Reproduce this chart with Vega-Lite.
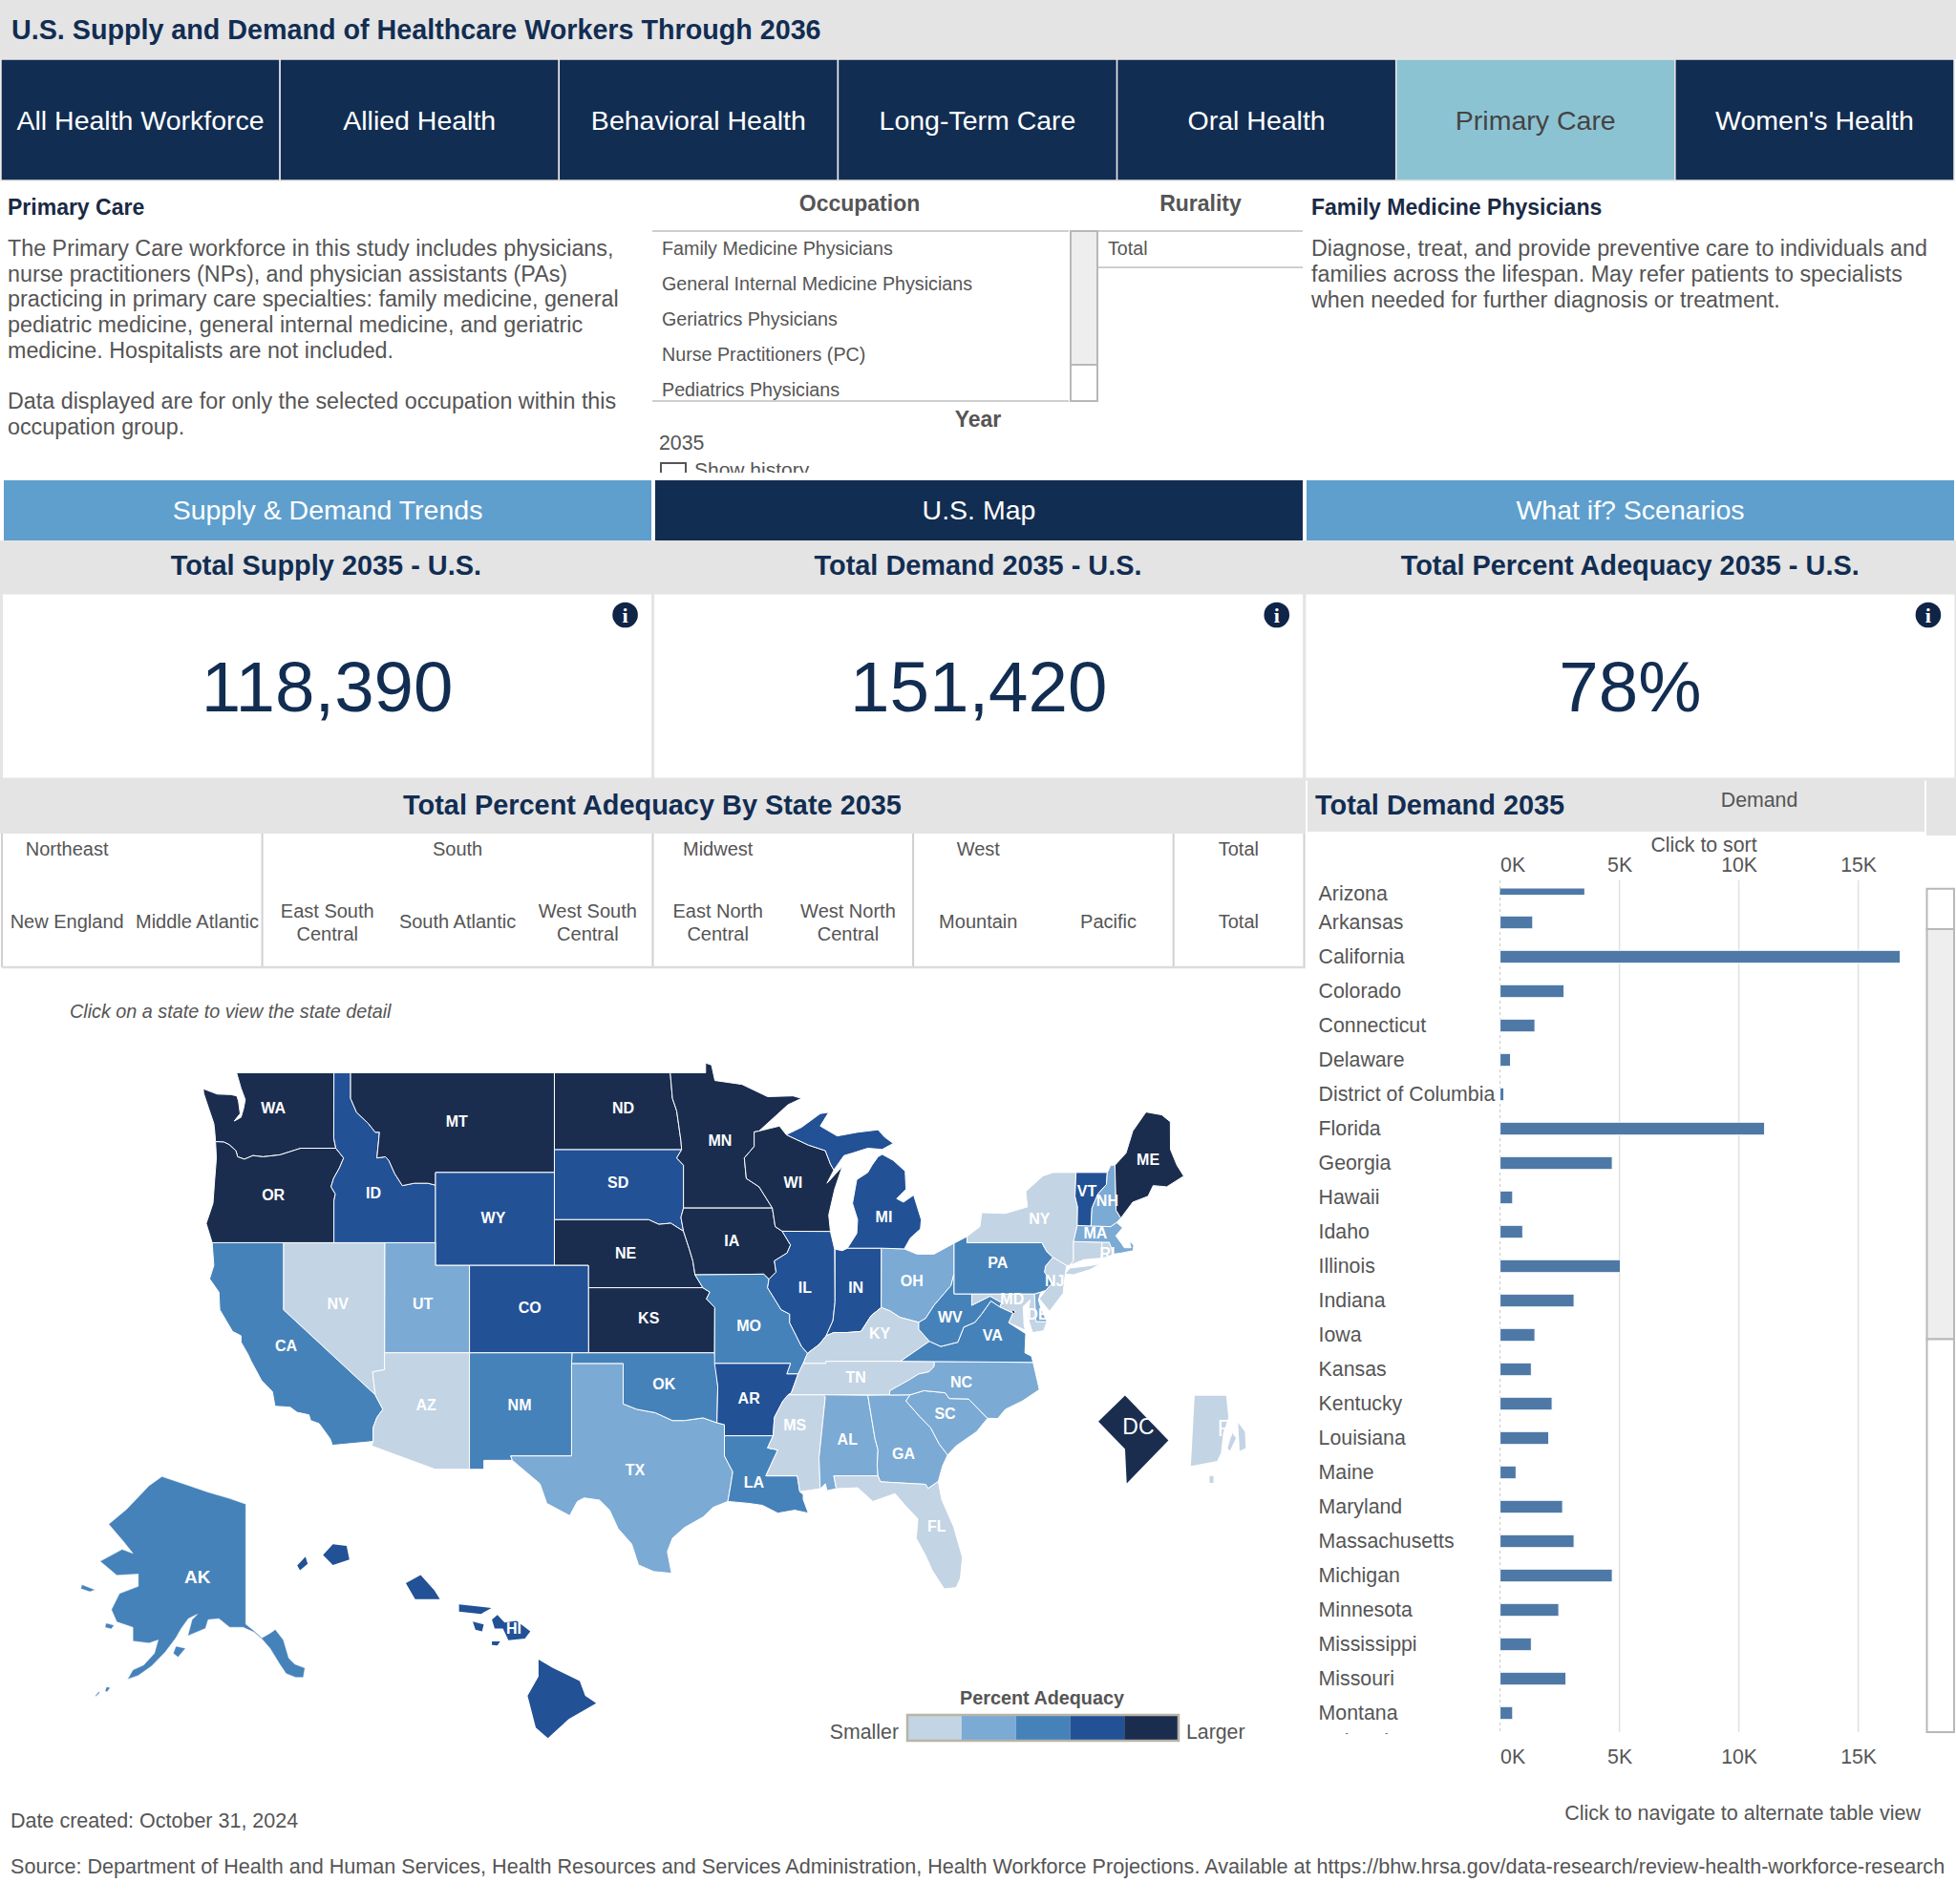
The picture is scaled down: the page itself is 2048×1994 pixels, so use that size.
{"$schema":"https://vega.github.io/schema/vega-lite/v6.json","padding":0,"background":"#ffffff","spacing":0,"bounds":"flush","resolve":{"scale":{"color":"independent","fill":"independent"}},"config":{"view":{"stroke":null},"text":{"font":"Liberation Sans"},"concat":{"spacing":0}},
"datasets":{
"tabs":[{"tab":"All Health Workforce","state":"off"},{"tab":"Allied Health","state":"off"},{"tab":"Behavioral Health","state":"off"},{"tab":"Long-Term Care","state":"off"},{"tab":"Oral Health","state":"off"},{"tab":"Primary Care","state":"on"},{"tab":"Women's Health","state":"off"}],
"nav":[{"b":"Supply & Demand Trends","state":"idle"},{"b":"U.S. Map","state":"active"},{"b":"What if? Scenarios","state":"idle"}],
"kpis":[{"m":"supply","title":"Total Supply 2035 - U.S.","value":"118,390"},{"m":"demand","title":"Total Demand 2035 - U.S.","value":"151,420"},{"m":"adequacy","title":"Total Percent Adequacy 2035 - U.S.","value":"78%"}],
"divisions":[{"d":"New England","label":"New England"},{"d":"Middle Atlantic","label":"Middle Atlantic"},{"d":"East South Central","label":"East South\nCentral"},{"d":"South Atlantic","label":"South Atlantic"},{"d":"West South Central","label":"West South\nCentral"},{"d":"East North Central","label":"East North\nCentral"},{"d":"West North Central","label":"West North\nCentral"},{"d":"Mountain","label":"Mountain"},{"d":"Pacific","label":"Pacific"},{"d":"Total","label":"Total"}],
"demand":[{"state":"Arizona","demand":3530},{"state":"Arkansas","demand":1370},{"state":"California","demand":16760},{"state":"Colorado","demand":2680},{"state":"Connecticut","demand":1460},{"state":"Delaware","demand":440},{"state":"District of Columbia","demand":160},{"state":"Florida","demand":11080},{"state":"Georgia","demand":4700},{"state":"Hawaii","demand":530},{"state":"Idaho","demand":950},{"state":"Illinois","demand":5040},{"state":"Indiana","demand":3100},{"state":"Iowa","demand":1460},{"state":"Kansas","demand":1310},{"state":"Kentucky","demand":2180},{"state":"Louisiana","demand":2040},{"state":"Maine","demand":670},{"state":"Maryland","demand":2620},{"state":"Massachusetts","demand":3100},{"state":"Michigan","demand":4700},{"state":"Minnesota","demand":2460},{"state":"Mississippi","demand":1310},{"state":"Missouri","demand":2760},{"state":"Montana","demand":530},{"state":"Nebraska"}],
"lower48":[
{"type":"Feature","properties":{"s":"WA","level":5},"geometry":{"type":"Polygon","coordinates":[[[-122.76,49],[-117.03,49],[-117.04,46.42],[-116.92,46],[-118.98,46],[-119.3,45.93],[-120.2,45.73],[-121.2,45.65],[-121.8,45.7],[-122.3,45.55],[-122.7,45.65],[-122.8,45.9],[-123.2,46.15],[-123.5,46.25],[-124,46.27],[-124.05,46.7],[-124.1,47],[-124.4,47.6],[-124.7,48.2],[-124.72,48.38],[-123.9,48.17],[-123.1,48.15],[-122.75,48.1],[-122.65,47.9],[-122.55,47.4],[-122.9,47.1],[-122.5,47.25],[-122.35,47.6],[-122.25,47.95],[-122.5,48.4],[-122.76,49]]]}},
{"type":"Feature","properties":{"s":"OR","level":5},"geometry":{"type":"Polygon","coordinates":[[[-124,46.27],[-123.5,46.25],[-123.2,46.15],[-122.8,45.9],[-122.7,45.65],[-122.3,45.55],[-121.8,45.7],[-121.2,45.65],[-120.2,45.73],[-119.3,45.93],[-118.98,46],[-116.92,46],[-116.46,45.6],[-116.7,45.2],[-117.05,44.75],[-117.2,44.4],[-116.95,44.1],[-117.03,43.8],[-117.03,42],[-124.2,42],[-124.55,42.84],[-124.15,43.7],[-124.05,44.7],[-123.95,45.6],[-124,46.27]]]}},
{"type":"Feature","properties":{"s":"ID","level":4},"geometry":{"type":"Polygon","coordinates":[[[-117.03,49],[-116.05,49],[-116.05,48],[-115.7,47.45],[-115,47],[-114.6,46.65],[-114.35,46.65],[-114.5,45.6],[-114,45.65],[-113.8,45.5],[-113.45,44.95],[-113,44.45],[-112.3,44.55],[-111.5,44.55],[-111.05,44.47],[-111.05,42],[-117.03,42],[-117.03,43.8],[-116.95,44.1],[-117.2,44.4],[-117.05,44.75],[-116.7,45.2],[-116.46,45.6],[-116.92,46],[-117.04,46.42],[-117.03,49]]]}},
{"type":"Feature","properties":{"s":"MT","level":5},"geometry":{"type":"Polygon","coordinates":[[[-116.05,49],[-104.05,49],[-104.05,45],[-111.05,45],[-111.05,44.47],[-111.5,44.55],[-112.3,44.55],[-113,44.45],[-113.45,44.95],[-113.8,45.5],[-114,45.65],[-114.5,45.6],[-114.35,46.65],[-114.6,46.65],[-115,47],[-115.7,47.45],[-116.05,48],[-116.05,49]]]}},
{"type":"Feature","properties":{"s":"WY","level":4},"geometry":{"type":"Polygon","coordinates":[[[-111.05,45],[-104.05,45],[-104.05,41],[-111.05,41],[-111.05,45]]]}},
{"type":"Feature","properties":{"s":"ND","level":5},"geometry":{"type":"Polygon","coordinates":[[[-104.05,49],[-97.23,49],[-97.1,48],[-96.85,47.5],[-96.6,46.3],[-96.56,45.94],[-104.05,45.94],[-104.05,49]]]}},
{"type":"Feature","properties":{"s":"SD","level":4},"geometry":{"type":"Polygon","coordinates":[[[-104.05,45.94],[-96.56,45.94],[-96.85,45.6],[-96.45,45.3],[-96.45,43.5],[-96.6,43.1],[-96.45,42.5],[-97.2,42.85],[-97.9,42.8],[-98.5,43],[-104.05,43],[-104.05,45.94]]]}},
{"type":"Feature","properties":{"s":"NE","level":5},"geometry":{"type":"Polygon","coordinates":[[[-104.05,43],[-98.5,43],[-97.9,42.8],[-97.2,42.85],[-96.45,42.5],[-96.1,41.7],[-95.9,41.2],[-95.77,40.58],[-95.31,40],[-102.05,40],[-102.05,41],[-104.05,41],[-104.05,43]]]}},
{"type":"Feature","properties":{"s":"KS","level":5},"geometry":{"type":"Polygon","coordinates":[[[-102.05,40],[-95.31,40],[-94.9,39.8],[-95.1,39.5],[-94.61,39.1],[-94.62,37],[-102.04,37],[-102.05,40]]]}},
{"type":"Feature","properties":{"s":"CO","level":4},"geometry":{"type":"Polygon","coordinates":[[[-109.05,41],[-102.05,41],[-102.04,37],[-109.05,37],[-109.05,41]]]}},
{"type":"Feature","properties":{"s":"UT","level":2},"geometry":{"type":"Polygon","coordinates":[[[-114.04,42],[-111.05,42],[-111.05,41],[-109.05,41],[-109.05,37],[-114.05,37],[-114.04,42]]]}},
{"type":"Feature","properties":{"s":"NV","level":1},"geometry":{"type":"Polygon","coordinates":[[[-120,42],[-114.04,42],[-114.05,36.2],[-114.75,36.1],[-114.6,35],[-120,39],[-120,42]]]}},
{"type":"Feature","properties":{"s":"CA","level":3},"geometry":{"type":"Polygon","coordinates":[[[-124.2,42],[-120,42],[-120,39],[-114.6,35],[-114.15,34.3],[-114.5,33.9],[-114.72,33.4],[-114.72,32.72],[-117.12,32.53],[-117.25,32.85],[-117.9,33.6],[-118.4,33.75],[-118.5,34.03],[-119.2,34.15],[-119.6,34.4],[-120.5,34.45],[-120.65,35.15],[-121.3,35.7],[-121.9,36.6],[-122.1,36.95],[-122.5,37.5],[-122.5,37.8],[-123,38],[-123.75,39],[-123.8,39.8],[-124.35,40.4],[-124.1,41],[-124.2,42]]]}},
{"type":"Feature","properties":{"s":"AZ","level":1},"geometry":{"type":"Polygon","coordinates":[[[-114.05,37],[-109.05,37],[-109.05,31.33],[-111.07,31.33],[-114.81,32.5],[-114.72,32.72],[-114.72,33.4],[-114.5,33.9],[-114.15,34.3],[-114.6,35],[-114.75,36.1],[-114.05,36.2],[-114.05,37]]]}},
{"type":"Feature","properties":{"s":"NM","level":3},"geometry":{"type":"Polygon","coordinates":[[[-109.05,37],[-103,37],[-103.04,32],[-106.62,32],[-106.53,31.78],[-108.2,31.78],[-108.2,31.33],[-109.05,31.33],[-109.05,37]]]}},
{"type":"Feature","properties":{"s":"TX","level":2},"geometry":{"type":"Polygon","coordinates":[[[-103.04,36.5],[-100,36.5],[-100,34.56],[-99.2,34.3],[-98.1,34.13],[-97.1,33.75],[-96.4,33.75],[-95.3,33.88],[-94.48,33.64],[-94.04,33.55],[-94.04,33],[-94.04,32],[-93.55,31.2],[-93.7,30.4],[-93.84,29.7],[-94.7,29.4],[-95.3,28.9],[-96.4,28.35],[-97.1,27.8],[-97.4,27.1],[-97.15,25.96],[-98.2,26.05],[-99.1,26.4],[-99.5,27.5],[-100.3,28.3],[-100.8,29.25],[-101.4,29.77],[-102.3,29.88],[-102.7,29.7],[-103.15,28.97],[-104.5,29.6],[-104.9,30.6],[-106.53,31.78],[-106.62,32],[-103.04,32],[-103.04,36.5]]]}},
{"type":"Feature","properties":{"s":"OK","level":3},"geometry":{"type":"Polygon","coordinates":[[[-103,37],[-94.62,37],[-94.43,35.4],[-94.48,33.64],[-95.3,33.88],[-96.4,33.75],[-97.1,33.75],[-98.1,34.13],[-99.2,34.3],[-100,34.56],[-100,36.5],[-103.04,36.5],[-103,37]]]}},
{"type":"Feature","properties":{"s":"MN","level":5},"geometry":{"type":"Polygon","coordinates":[[[-97.23,49],[-95.15,49],[-95.15,49.38],[-94.8,49.3],[-94.6,48.7],[-93,48.55],[-91.5,48.07],[-90,48.1],[-89.5,48],[-90.3,47.75],[-92,46.7],[-92.29,46.66],[-92.29,46.07],[-92.87,45.6],[-92.75,44.75],[-92,44.4],[-91.22,43.5],[-96.45,43.5],[-96.45,45.3],[-96.85,45.6],[-96.56,45.94],[-96.6,46.3],[-96.85,47.5],[-97.1,48],[-97.23,49]]]}},
{"type":"Feature","properties":{"s":"IA","level":5},"geometry":{"type":"Polygon","coordinates":[[[-96.45,43.5],[-91.22,43.5],[-91.05,42.7],[-90.64,42.5],[-90.15,41.9],[-90.35,41.55],[-91.1,41.2],[-91,40.7],[-91.42,40.38],[-91.73,40.61],[-95.77,40.58],[-95.9,41.2],[-96.1,41.7],[-96.45,42.5],[-96.6,43.1],[-96.45,43.5]]]}},
{"type":"Feature","properties":{"s":"MO","level":3},"geometry":{"type":"Polygon","coordinates":[[[-95.77,40.58],[-91.73,40.61],[-91.42,40.38],[-91.5,40],[-90.7,39],[-90.2,38.8],[-90.2,38.4],[-89.5,37.3],[-89.15,36.98],[-89.4,36.5],[-89.7,36],[-90.37,36],[-90.15,36.5],[-94.62,36.5],[-94.62,37],[-94.61,39.1],[-95.1,39.5],[-94.9,39.8],[-95.31,40],[-95.77,40.58]]]}},
{"type":"Feature","properties":{"s":"AR","level":4},"geometry":{"type":"Polygon","coordinates":[[[-94.62,36.5],[-90.15,36.5],[-90.37,36],[-89.7,36],[-90.1,35.1],[-90.6,34.7],[-91.1,33.9],[-91.17,33],[-94.04,33],[-94.04,33.55],[-94.48,33.64],[-94.43,35.4],[-94.62,36.5]]]}},
{"type":"Feature","properties":{"s":"LA","level":3},"geometry":{"type":"Polygon","coordinates":[[[-94.04,33],[-91.17,33],[-91.5,32.4],[-90.9,32.3],[-91.6,31],[-89.75,31],[-89.6,30.2],[-89.4,30.05],[-89.4,29.8],[-89.1,29.1],[-89.9,29.25],[-90.9,29.1],[-91.8,29.5],[-92.6,29.6],[-93.84,29.7],[-93.7,30.4],[-93.55,31.2],[-94.04,32],[-94.04,33]]]}},
{"type":"Feature","properties":{"s":"WI","level":5},"geometry":{"type":"Polygon","coordinates":[[[-92.29,46.66],[-92,46.7],[-90.8,46.9],[-90.4,46.55],[-89.1,46.13],[-88.1,45.9],[-87.8,45.35],[-87.6,45.1],[-88,44.55],[-87.1,45.25],[-87.55,44.3],[-87.9,43.2],[-87.8,42.49],[-90.64,42.5],[-91.05,42.7],[-91.22,43.5],[-92,44.4],[-92.75,44.75],[-92.87,45.6],[-92.29,46.07],[-92.29,46.66]]]}},
{"type":"Feature","properties":{"s":"IL","level":4},"geometry":{"type":"Polygon","coordinates":[[[-90.64,42.5],[-87.8,42.49],[-87.55,41.7],[-87.53,39.35],[-87.65,38.5],[-88.05,37.8],[-88.45,37.4],[-89.15,36.98],[-89.5,37.3],[-90.2,38.4],[-90.2,38.8],[-90.7,39],[-91.5,40],[-91.42,40.38],[-91,40.7],[-91.1,41.2],[-90.35,41.55],[-90.15,41.9],[-90.64,42.5]]]}},
{"type":"Feature","properties":{"s":"IN","level":4},"geometry":{"type":"Polygon","coordinates":[[[-87.53,41.72],[-87.1,41.65],[-86.8,41.76],[-84.8,41.76],[-84.81,39.1],[-85.4,38.73],[-86,38],[-86.8,37.95],[-87.6,37.95],[-88.05,37.8],[-87.65,38.5],[-87.53,39.35],[-87.53,41.72]]]}},
{"type":"Feature","properties":{"s":"OH","level":2},"geometry":{"type":"Polygon","coordinates":[[[-84.8,41.76],[-83.45,41.73],[-82.7,41.5],[-81.7,41.5],[-80.52,41.98],[-80.52,40.64],[-80.7,40.1],[-81.7,39.2],[-82.2,38.6],[-82.6,38.42],[-83.7,38.65],[-84.3,38.95],[-84.81,39.1],[-84.8,41.76]]]}},
{"type":"Feature","properties":{"s":"MI","level":4},"geometry":{"type":"MultiPolygon","coordinates":[[[[-90.4,46.55],[-89.5,46.85],[-88.4,47.4],[-87.9,47.45],[-88.4,46.9],[-87.4,46.5],[-86.2,46.65],[-85,46.75],[-84.6,46.45],[-84.1,46.2],[-84.75,45.95],[-85.6,46],[-86.5,45.8],[-87,45.7],[-87.6,45.1],[-87.8,45.35],[-88.1,45.9],[-89.1,46.13],[-90.4,46.55]]],[[[-84.75,45.75],[-84.1,45.5],[-83.4,45.05],[-83.35,44.3],[-83.9,43.9],[-83.5,43.75],[-82.9,44.05],[-82.45,43],[-82.5,42.6],[-83.1,42.2],[-83.45,41.73],[-84.8,41.76],[-86.8,41.76],[-86.25,42.4],[-86.2,43],[-86.5,43.7],[-86.25,44.7],[-85.6,45],[-85.35,45.3],[-85,45.65],[-84.75,45.75]]]]}},
{"type":"Feature","properties":{"s":"KY","level":1},"geometry":{"type":"Polygon","coordinates":[[[-89.4,36.5],[-89.15,36.98],[-88.45,37.4],[-88.05,37.8],[-87.6,37.95],[-86.8,37.95],[-86,38],[-85.4,38.73],[-84.81,39.1],[-84.3,38.95],[-83.7,38.65],[-82.6,38.42],[-82.6,38.1],[-81.97,37.54],[-83.68,36.6],[-88.07,36.6],[-88.07,36.5],[-89.4,36.5]]]}},
{"type":"Feature","properties":{"s":"TN","level":1},"geometry":{"type":"Polygon","coordinates":[[[-89.7,36],[-89.4,36.5],[-88.07,36.5],[-88.07,36.6],[-83.68,36.6],[-81.68,36.59],[-81.7,36.35],[-82,36.1],[-82.6,36],[-83.2,35.7],[-84.3,35.2],[-84.32,34.99],[-90.3,35],[-90.1,35.1],[-89.7,36]]]}},
{"type":"Feature","properties":{"s":"MS","level":1},"geometry":{"type":"Polygon","coordinates":[[[-90.3,35],[-88.2,35],[-88.1,34.9],[-88.47,31.9],[-88.4,30.35],[-89.6,30.2],[-89.75,31],[-91.6,31],[-90.9,32.3],[-91.5,32.4],[-91.17,33],[-91.1,33.9],[-90.6,34.7],[-90.3,35]]]}},
{"type":"Feature","properties":{"s":"AL","level":2},"geometry":{"type":"Polygon","coordinates":[[[-88.2,35],[-85.6,34.98],[-85.18,32.87],[-85,32.3],[-85.05,31.55],[-85,31],[-87.6,31],[-87.45,30.35],[-88,30.25],[-88.1,30.6],[-88.4,30.35],[-88.47,31.9],[-88.1,34.9],[-88.2,35]]]}},
{"type":"Feature","properties":{"s":"GA","level":2},"geometry":{"type":"Polygon","coordinates":[[[-85.6,34.98],[-83.11,35],[-83.35,34.7],[-82.55,33.95],[-81.9,33.4],[-81.4,32.6],[-80.9,32.05],[-81.2,31.5],[-81.45,30.72],[-82.05,30.36],[-82.2,30.57],[-84.86,30.7],[-85,31],[-85.05,31.55],[-85,32.3],[-85.18,32.87],[-85.6,34.98]]]}},
{"type":"Feature","properties":{"s":"FL","level":1},"geometry":{"type":"Polygon","coordinates":[[[-87.6,31],[-85,31],[-84.86,30.7],[-82.2,30.57],[-82.05,30.36],[-81.45,30.72],[-81.25,29.8],[-80.55,28.4],[-80.03,26.8],[-80.15,25.7],[-80.4,25.2],[-81.1,25.13],[-81.8,26.1],[-82.2,26.9],[-82.75,27.8],[-82.65,28.8],[-83.4,29.5],[-84,30.1],[-85.3,29.7],[-86.2,30.4],[-87.45,30.35],[-87.6,31]]]}},
{"type":"Feature","properties":{"s":"SC","level":2},"geometry":{"type":"Polygon","coordinates":[[[-83.11,35],[-82.3,35.2],[-81.05,35.1],[-80.8,34.82],[-79.67,34.8],[-78.55,33.86],[-79.2,33.2],[-80.4,32.5],[-80.9,32.05],[-81.4,32.6],[-81.9,33.4],[-82.55,33.95],[-83.35,34.7],[-83.11,35]]]}},
{"type":"Feature","properties":{"s":"NC","level":2},"geometry":{"type":"Polygon","coordinates":[[[-84.32,34.99],[-84.3,35.2],[-83.2,35.7],[-82.6,36],[-82,36.1],[-81.7,36.35],[-81.68,36.59],[-75.87,36.55],[-75.5,35.25],[-76.5,34.7],[-77.5,34.3],[-77.95,33.85],[-78.55,33.86],[-79.67,34.8],[-80.8,34.82],[-81.05,35.1],[-82.3,35.2],[-83.11,35],[-84.32,34.99]]]}},
{"type":"Feature","properties":{"s":"VA","level":3},"geometry":{"type":"Polygon","coordinates":[[[-83.68,36.6],[-81.97,37.54],[-81.3,37.3],[-80.3,37.5],[-79.95,38.2],[-79.3,38.42],[-78.9,38.8],[-78.35,39.4],[-77.83,39.13],[-77.05,38.85],[-77.3,38.4],[-76.3,37.9],[-76.35,37],[-75.97,36.85],[-75.87,36.55],[-81.68,36.59],[-83.68,36.6]]]}},
{"type":"Feature","properties":{"s":"WV","level":3},"geometry":{"type":"Polygon","coordinates":[[[-82.6,38.42],[-82.2,38.6],[-81.7,39.2],[-80.7,40.1],[-80.52,40.64],[-80.52,39.72],[-79.48,39.72],[-79.48,39.2],[-78.4,39.62],[-77.72,39.32],[-77.83,39.13],[-78.35,39.4],[-78.9,38.8],[-79.3,38.42],[-79.95,38.2],[-80.3,37.5],[-81.3,37.3],[-81.97,37.54],[-82.6,38.1],[-82.6,38.42]]]}},
{"type":"Feature","properties":{"s":"MD","level":1},"geometry":{"type":"Polygon","coordinates":[[[-79.48,39.72],[-75.79,39.72],[-75.7,38.46],[-75.05,38.45],[-75.25,38.03],[-75.9,37.95],[-76.2,38.7],[-76.05,39.45],[-76.45,39.15],[-76.4,38.3],[-76.32,38.05],[-77,38.3],[-77.3,38.4],[-77.05,38.85],[-77.83,39.13],[-77.72,39.32],[-78.4,39.62],[-79.48,39.2],[-79.48,39.72]]]}},
{"type":"Feature","properties":{"s":"DE","level":2},"geometry":{"type":"Polygon","coordinates":[[[-75.79,39.72],[-75.42,39.8],[-75.55,39.45],[-75.4,39.05],[-75.05,38.45],[-75.7,38.46],[-75.79,39.72]]]}},
{"type":"Feature","properties":{"s":"NJ","level":1},"geometry":{"type":"Polygon","coordinates":[[[-74.7,41.36],[-73.9,41],[-74,40.45],[-74.1,39.75],[-74.9,38.93],[-75.5,39.5],[-75.13,39.88],[-74.75,40.2],[-75.2,40.7],[-75.13,40.98],[-74.7,41.36]]]}},
{"type":"Feature","properties":{"s":"PA","level":3},"geometry":{"type":"Polygon","coordinates":[[[-80.52,41.98],[-79.76,42.27],[-79.76,42],[-75.35,42],[-75.05,41.6],[-74.7,41.36],[-75.13,40.98],[-75.2,40.7],[-74.75,40.2],[-75.13,39.88],[-75.42,39.8],[-75.79,39.72],[-80.52,39.72],[-80.52,40.64],[-80.52,41.98]]]}},
{"type":"Feature","properties":{"s":"NY","level":1},"geometry":{"type":"MultiPolygon","coordinates":[[[[-79.76,42.27],[-79,42.7],[-78.9,43.3],[-77.5,43.27],[-76.2,43.55],[-76.3,44.2],[-75.3,44.85],[-74.7,45],[-73.34,45],[-73.4,44],[-73.25,43.55],[-73.27,42.75],[-73.49,42.05],[-73.49,41.2],[-73.73,41],[-73.9,41],[-74.7,41.36],[-75.05,41.6],[-75.35,42],[-79.76,42],[-79.76,42.27]]],[[[-74,40.62],[-73.7,40.88],[-72.6,40.98],[-71.9,41.07],[-72.5,40.82],[-73.5,40.58],[-74,40.62]]]]}},
{"type":"Feature","properties":{"s":"CT","level":1},"geometry":{"type":"Polygon","coordinates":[[[-73.49,42.05],[-71.8,42.02],[-71.85,41.32],[-72.9,41.25],[-73.73,41],[-73.49,41.2],[-73.49,42.05]]]}},
{"type":"Feature","properties":{"s":"RI","level":1},"geometry":{"type":"Polygon","coordinates":[[[-71.8,42.02],[-71.38,42.02],[-71.33,41.9],[-71.12,41.5],[-71.5,41.37],[-71.85,41.32],[-71.8,42.02]]]}},
{"type":"Feature","properties":{"s":"MA","level":2},"geometry":{"type":"Polygon","coordinates":[[[-73.27,42.75],[-71.3,42.7],[-70.95,42.88],[-70.6,42.65],[-71,42.3],[-70.65,41.95],[-70.5,41.78],[-70.1,41.78],[-70.2,42.07],[-69.95,41.9],[-69.97,41.65],[-70.65,41.55],[-71.12,41.5],[-71.33,41.9],[-71.38,42.02],[-71.8,42.02],[-73.49,42.05],[-73.27,42.75]]]}},
{"type":"Feature","properties":{"s":"VT","level":4},"geometry":{"type":"Polygon","coordinates":[[[-73.34,45],[-71.5,45],[-71.55,44.5],[-72.05,44.1],[-72.4,43.5],[-72.46,42.73],[-73.27,42.75],[-73.25,43.55],[-73.4,44],[-73.34,45]]]}},
{"type":"Feature","properties":{"s":"NH","level":2},"geometry":{"type":"Polygon","coordinates":[[[-71.5,45],[-71.3,45.3],[-71.05,45.3],[-70.98,43.4],[-70.7,43.07],[-70.95,42.88],[-71.3,42.7],[-72.46,42.73],[-72.4,43.5],[-72.05,44.1],[-71.55,44.5],[-71.5,45]]]}},
{"type":"Feature","properties":{"s":"ME","level":5},"geometry":{"type":"Polygon","coordinates":[[[-71.05,45.3],[-70.4,45.8],[-70,46.7],[-69.22,47.46],[-68.3,47.35],[-67.79,47.07],[-67.78,45.95],[-67.4,45.3],[-67,44.85],[-68,44.4],[-68.8,44.45],[-69.1,44],[-70,43.75],[-70.7,43.07],[-70.98,43.4],[-71.05,45.3]]]}},
{"type":"Feature","properties":{"s":"DC","level":5},"geometry":{"type":"Polygon","coordinates":[[[-77.04,38.995],[-76.91,38.89],[-77.04,38.79],[-77.12,38.934],[-77.04,38.995]]]}}
],
"alaska":[{"type":"Feature","properties":{"s":"AK","level":3},"geometry":{"type":"MultiPolygon","coordinates":[[[[-141,69.64],[-141,60.3],[-139.5,59.7],[-138,59],[-136.5,59.45],[-135.5,59.8],[-134,58.8],[-133,57],[-131.9,56.4],[-130,56],[-130.3,55],[-131.7,55],[-133.5,55.4],[-134.7,56.4],[-136.5,58],[-138,58.9],[-139.5,59.55],[-141.5,60],[-144,60],[-146,60.8],[-148,60.7],[-148.5,59.9],[-151.8,59.2],[-151,60.7],[-150,61.2],[-151.7,60.8],[-153,59.9],[-154,59],[-156,57.6],[-158.5,56.2],[-161,55.2],[-163,54.8],[-162,55.8],[-160,56.3],[-158,57.5],[-157.3,58.8],[-159,58.5],[-162,58.7],[-162,60],[-165,60.5],[-166,61.6],[-164.5,63],[-161,63.6],[-161,64.6],[-165,64.5],[-168.1,65.6],[-164,66.5],[-162,66.2],[-163.8,67.1],[-166.5,68.3],[-163.2,69.3],[-159,70.8],[-156.6,71.35],[-152,70.85],[-148,70.4],[-144,70],[-141,69.64]]],[[[-171.5,63.75],[-169,63.3],[-170,63.15],[-171.7,63.4],[-171.5,63.75]]],[[[-167,60.4],[-165.5,60.2],[-166,59.85],[-167.2,60],[-167,60.4]]],[[[-154,58.2],[-152.2,58],[-153.6,57.1],[-154.5,57.5],[-154,58.2]]],[[[-166.9,54],[-166.2,53.9],[-166.8,53.45],[-167.2,53.5],[-166.9,54]]],[[[-169,53],[-168.3,53.5],[-168.2,53.3],[-168.9,52.9],[-169,53]]]]}}],
"hawaii":[{"type":"Feature","properties":{"s":"HI","level":4},"geometry":{"type":"MultiPolygon","coordinates":[[[[-159.6,22.23],[-159.35,22.2],[-159.3,21.97],[-159.6,21.88],[-159.78,22.05],[-159.6,22.23]]],[[[-160.1,22.02],[-160.06,21.9],[-160.2,21.79],[-160.25,21.87],[-160.1,22.02]]],[[[-158.27,21.57],[-158,21.71],[-157.75,21.45],[-157.65,21.3],[-157.95,21.3],[-158.1,21.3],[-158.27,21.57]]],[[[-157.3,21.21],[-156.9,21.17],[-156.71,21.15],[-156.9,21.05],[-157.3,21.09],[-157.3,21.21]]],[[[-157.05,20.92],[-156.85,20.87],[-156.88,20.75],[-157,20.78],[-157.05,20.92]]],[[[-156.7,20.95],[-156.6,21.03],[-156.47,20.9],[-156.25,20.93],[-156,20.75],[-156.1,20.63],[-156.4,20.6],[-156.5,20.8],[-156.65,20.8],[-156.7,20.95]]],[[[-156.7,20.58],[-156.55,20.58],[-156.6,20.51],[-156.7,20.52],[-156.7,20.58]]],[[[-155.85,20.27],[-155.6,20.13],[-155.1,19.9],[-155,19.65],[-154.8,19.52],[-155.3,19.25],[-155.68,18.92],[-155.9,19.1],[-156.05,19.65],[-155.85,19.98],[-155.85,20.27]]]]}}],
"dcInset":[{"type":"Feature","properties":{"s":"DC","level":5},"geometry":{"type":"Polygon","coordinates":[[[-77.04,38.995],[-76.91,38.89],[-77.035,38.79],[-77.04,38.87],[-77.12,38.934],[-77.04,38.995]]]}}],
"riInset":[{"type":"Feature","properties":{"s":"RI","level":1},"geometry":{"type":"MultiPolygon","coordinates":[[[[-71.8,42.02],[-71.38,42.02],[-71.35,41.8],[-71.42,41.65],[-71.45,41.45],[-71.5,41.37],[-71.85,41.32],[-71.8,42.02]]],[[[-71.3,41.65],[-71.25,41.6],[-71.33,41.47],[-71.36,41.5],[-71.3,41.65]]],[[[-71.22,41.75],[-71.13,41.66],[-71.12,41.5],[-71.2,41.47],[-71.22,41.75]]],[[[-71.6,41.22],[-71.55,41.22],[-71.55,41.15],[-71.6,41.15],[-71.6,41.22]]]]}}],
"labels48":[{"a":"WA","lon":-120.6,"lat":47.6},{"a":"OR","lon":-120.6,"lat":44.05},{"a":"CA","lon":-119.85,"lat":37.3},{"a":"NV","lon":-116.8,"lat":39.25},{"a":"ID","lon":-114.7,"lat":44.1},{"a":"MT","lon":-109.8,"lat":47.05},{"a":"WY","lon":-107.65,"lat":43.05},{"a":"UT","lon":-111.8,"lat":39.25},{"a":"CO","lon":-105.5,"lat":39.05},{"a":"AZ","lon":-111.6,"lat":34.5},{"a":"NM","lon":-106.1,"lat":34.5},{"a":"ND","lon":-100,"lat":47.6},{"a":"SD","lon":-100.3,"lat":44.55},{"a":"NE","lon":-99.85,"lat":41.5},{"a":"KS","lon":-98.5,"lat":38.6},{"a":"OK","lon":-97.6,"lat":35.5},{"a":"TX","lon":-99.3,"lat":31.25},{"a":"MN","lon":-94.3,"lat":46.3},{"a":"IA","lon":-93.6,"lat":42.05},{"a":"MO","lon":-92.6,"lat":38.25},{"a":"AR","lon":-92.6,"lat":34.8},{"a":"LA","lon":-92.3,"lat":30.65},{"a":"WI","lon":-90,"lat":44.55},{"a":"IL","lon":-89.3,"lat":40},{"a":"MI","lon":-84.65,"lat":43.1},{"a":"IN","lon":-86.3,"lat":40},{"a":"OH","lon":-83,"lat":40.3},{"a":"KY","lon":-84.9,"lat":37.9},{"a":"TN","lon":-86.3,"lat":35.8},{"a":"MS","lon":-89.9,"lat":33.5},{"a":"AL","lon":-86.8,"lat":32.8},{"a":"GA","lon":-83.5,"lat":32.1},{"a":"SC","lon":-81.05,"lat":34.05},{"a":"NC","lon":-80.1,"lat":35.6},{"a":"FL","lon":-81.55,"lat":28.4},{"a":"VA","lon":-78.25,"lat":37.8},{"a":"WV","lon":-80.75,"lat":38.65},{"a":"PA","lon":-77.95,"lat":41.1},{"a":"NY","lon":-75.5,"lat":43},{"a":"NJ","lon":-74.6,"lat":40.3},{"a":"MD","lon":-77.1,"lat":39.45},{"a":"DE","lon":-75.6,"lat":38.75},{"a":"RI","lon":-71.5,"lat":41.5},{"a":"MA","lon":-72.2,"lat":42.4},{"a":"VT","lon":-72.7,"lat":44.2},{"a":"NH","lon":-71.5,"lat":43.8},{"a":"ME","lon":-69.1,"lat":45.5}]
},
"vconcat":[
{"width":2048,"height":62,"view":{"fill":"#e4e4e4"},"data":{"values":[{"t":"U.S. Supply and Demand of Healthcare Workers Through 2036"}]},"mark":{"type":"text","align":"left","x":12,"y":32,"fontSize":28.7,"fontWeight":"bold","color":"#122d52"},"encoding":{"text":{"field":"t"}}},
{"width":2048,"height":127,"data":{"name":"tabs"},"encoding":{"x":{"field":"tab","type":"nominal","sort":null,"axis":null,"scale":{"range":[1,2046],"paddingInner":0,"paddingOuter":0}}},"layer":[
{"mark":{"type":"rect","stroke":"#e8e8e8","strokeWidth":1.5},"encoding":{"fill":{"field":"state","type":"nominal","legend":null,"scale":{"domain":["off","on"],"range":["#122d52","#8cc3d3"]}}}},
{"mark":{"type":"text","y":64.5,"fontSize":28.5},"encoding":{"text":{"field":"tab"},"color":{"field":"state","type":"nominal","legend":null,"scale":{"domain":["off","on"],"range":["#ffffff","#444444"]}}}}
]},
{"width":2048,"height":314,"resolve":{"scale":{"y":"independent","fill":"independent"}},"layer":[
{"data":{"values":[{"t":"Primary Care"}]},"mark":{"type":"text","align":"left","x":8,"y":29,"fontSize":23,"fontWeight":"bold","color":"#1a2a44"},"encoding":{"text":{"field":"t"}}},
{"data":{"values":[{"line":1,"t":"The Primary Care workforce in this study includes physicians,"},{"line":2,"t":"nurse practitioners (NPs), and physician assistants (PAs)"},{"line":3,"t":"practicing in primary care specialties: family medicine, general"},{"line":4,"t":"pediatric medicine, general internal medicine, and geriatric"},{"line":5,"t":"medicine. Hospitalists are not included."},{"line":7,"t":"Data displayed are for only the selected occupation within this"},{"line":8,"t":"occupation group."}]},"mark":{"type":"text","align":"left","x":8,"fontSize":23.3,"color":"#555555"},"encoding":{"text":{"field":"t"},"y":{"field":"line","type":"ordinal","axis":null,"scale":{"type":"point","padding":0,"domain":[1,2,3,4,5,6,7,8],"range":[72,259]}}}},
{"data":{"values":[{"t":"Occupation"}]},"mark":{"type":"text","x":900,"y":25,"fontSize":23,"fontWeight":"bold","color":"#555555"},"encoding":{"text":{"field":"t"}}},
{"data":{"values":[{"o":"Family Medicine Physicians"},{"o":"General Internal Medicine Physicians"},{"o":"Geriatrics Physicians"},{"o":"Nurse Practitioners (PC)"},{"o":"Pediatrics Physicians"}]},"mark":{"type":"text","align":"left","x":693,"fontSize":19.7,"color":"#555555"},"encoding":{"text":{"field":"o"},"y":{"field":"o","type":"nominal","sort":null,"axis":null,"scale":{"type":"point","padding":0,"range":[72,220]}}}},
{"data":{"values":[{"edge":"top"}]},"mark":{"type":"rule","stroke":"#cfcfcf","strokeWidth":2},"encoding":{"x":{"value":683},"x2":{"value":1119},"y":{"value":53}}},
{"data":{"values":[{"edge":"bottom"}]},"mark":{"type":"rule","stroke":"#cfcfcf","strokeWidth":2},"encoding":{"x":{"value":683},"x2":{"value":1119},"y":{"value":231}}},
{"data":{"values":[{"part":"thumb","from":0,"to":0.787},{"part":"rest","from":0.787,"to":1}]},"mark":{"type":"rect","x":1121,"x2":1149,"stroke":"#b8b8b8","strokeWidth":2},"encoding":{"y":{"field":"from","type":"quantitative","axis":null,"scale":{"domain":[0,1],"range":[53,231]}},"y2":{"field":"to"},"fill":{"field":"part","type":"nominal","legend":null,"scale":{"domain":["thumb","rest"],"range":["#eeeeee","#ffffff"]}}}},
{"data":{"values":[{"t":"Year"}]},"mark":{"type":"text","x":1024,"y":251,"fontSize":23,"fontWeight":"bold","color":"#555555"},"encoding":{"text":{"field":"t"}}},
{"data":{"values":[{"t":"2035"}]},"mark":{"type":"text","align":"left","x":690,"y":276,"fontSize":21.3,"color":"#555555"},"encoding":{"text":{"field":"t"}}},
{"data":{"values":[{"t":"Show history"}]},"mark":{"type":"text","align":"left","x":727,"y":304,"fontSize":21,"color":"#555555"},"encoding":{"text":{"field":"t"}}},
{"data":{"values":[{"t":"box"}]},"mark":{"type":"rect","x":692,"x2":718,"y":296,"y2":312,"fill":"#ffffff","stroke":"#555555","strokeWidth":2},"encoding":{}},
{"data":{"values":[{"t":"mask"}]},"mark":{"type":"rect","x":683,"x2":1149,"y":306,"y2":314,"fill":"#ffffff"},"encoding":{}},
{"data":{"values":[{"t":"Rurality"}]},"mark":{"type":"text","x":1257,"y":25,"fontSize":23,"fontWeight":"bold","color":"#555555"},"encoding":{"text":{"field":"t"}}},
{"data":{"values":[{"t":"Total"}]},"mark":{"type":"text","align":"left","x":1160,"y":72,"fontSize":19.7,"color":"#555555"},"encoding":{"text":{"field":"t"}}},
{"data":{"values":[{"edge":"top"}]},"mark":{"type":"rule","stroke":"#cfcfcf","strokeWidth":2},"encoding":{"x":{"value":1150},"x2":{"value":1364},"y":{"value":53}}},
{"data":{"values":[{"edge":"bottom"}]},"mark":{"type":"rule","stroke":"#cfcfcf","strokeWidth":2},"encoding":{"x":{"value":1150},"x2":{"value":1364},"y":{"value":91}}},
{"data":{"values":[{"t":"Family Medicine Physicians"}]},"mark":{"type":"text","align":"left","x":1373,"y":29,"fontSize":23,"fontWeight":"bold","color":"#1a2a44"},"encoding":{"text":{"field":"t"}}},
{"data":{"values":[{"line":1,"t":"Diagnose, treat, and provide preventive care to individuals and"},{"line":2,"t":"families across the lifespan. May refer patients to specialists"},{"line":3,"t":"when needed for further diagnosis or treatment."}]},"mark":{"type":"text","align":"left","x":1373,"fontSize":23.3,"color":"#555555"},"encoding":{"text":{"field":"t"},"y":{"field":"line","type":"ordinal","axis":null,"scale":{"type":"point","padding":0,"range":[72,126]}}}}
]},
{"width":2048,"height":63,"data":{"name":"nav"},"encoding":{"x":{"field":"b","type":"nominal","sort":null,"axis":null,"scale":{"range":[2,2048],"paddingInner":0,"paddingOuter":0}}},"layer":[
{"mark":{"type":"rect","y":-2,"y2":65,"stroke":"#ffffff","strokeWidth":4},"encoding":{"fill":{"field":"state","type":"nominal","legend":null,"scale":{"domain":["idle","active"],"range":["#5f9fce","#122d52"]}}}},
{"mark":{"type":"text","fontSize":28.5,"color":"#ffffff"},"encoding":{"text":{"field":"b"}}}
]},
{"width":2048,"height":55,"view":{"fill":"#e4e4e4"},"data":{"name":"kpis"},"mark":{"type":"text","y":26.5,"fontSize":28.9,"fontWeight":"bold","color":"#122d52"},"encoding":{"x":{"field":"m","type":"nominal","sort":null,"axis":null,"scale":{"paddingInner":0,"paddingOuter":0}},"text":{"field":"title"}}},
{"width":2048,"height":195,"data":{"name":"kpis"},"encoding":{"x":{"field":"m","type":"nominal","sort":null,"axis":null,"scale":{"range":[1.5,2048],"paddingInner":0,"paddingOuter":0}}},"layer":[
{"mark":{"type":"rect","fill":"#ffffff","stroke":"#e4e4e4","strokeWidth":3}},
{"mark":{"type":"text","y":102,"fontSize":74.5,"color":"#122d52"},"encoding":{"text":{"field":"value"}}},
{"mark":{"type":"circle","y":23,"xOffset":312,"size":707,"opacity":1,"color":"#0f2447"}},
{"mark":{"type":"text","y":24,"xOffset":312,"fontSize":22,"fontWeight":"bold","font":"Liberation Serif","color":"#ffffff"},"encoding":{"text":{"value":"i"}}}
]},
{"width":2048,"height":1034,"resolve":{"scale":{"x":"independent","y":"independent","color":"independent","fill":"independent"},"axis":{"x":"independent"}},"layer":[
{"data":{"values":[{"b":"a"}]},"mark":{"type":"rect","x":0,"x2":1367,"y":0,"y2":57,"fill":"#e4e4e4"},"encoding":{}},
{"data":{"values":[{"b":"b"}]},"mark":{"type":"rect","x":1369,"x2":2015,"y":0,"y2":55,"fill":"#e4e4e4"},"encoding":{}},
{"data":{"values":[{"b":"c"}]},"mark":{"type":"rect","x":2017,"x2":2048,"y":0,"y2":59,"fill":"#e4e4e4"},"encoding":{}},
{"data":{"values":[{"t":"Total Percent Adequacy By State 2035"}]},"mark":{"type":"text","x":683,"y":28,"fontSize":28.9,"fontWeight":"bold","color":"#122d52"},"encoding":{"text":{"field":"t"}}},
{"data":{"name":"divisions"},"transform":[{"filter":"indexof(datum.label,'\\n')<0"}],"mark":{"type":"text","y":150.3,"fontSize":20,"color":"#555555"},"encoding":{"text":{"field":"label"},"x":{"field":"d","type":"nominal","axis":null,"scale":{"domain":["New England","Middle Atlantic","East South Central","South Atlantic","West South Central","East North Central","West North Central","Mountain","Pacific","Total"],"range":[2,1365],"paddingInner":0,"paddingOuter":0}}}},
{"data":{"name":"divisions"},"transform":[{"filter":"indexof(datum.label,'\\n')>=0"}],"mark":{"type":"text","y":139,"fontSize":20,"color":"#555555","lineBreak":"\n","lineHeight":23.5},"encoding":{"text":{"field":"label"},"x":{"field":"d","type":"nominal","axis":null,"scale":{"domain":["New England","Middle Atlantic","East South Central","South Atlantic","West South Central","East North Central","West North Central","Mountain","Pacific","Total"],"range":[2,1365],"paddingInner":0,"paddingOuter":0}}}},
{"data":{"values":[{"region":"Northeast","first":"New England"},{"region":"Midwest","first":"East North Central"},{"region":"West","first":"Mountain"}]},"mark":{"type":"text","y":74,"fontSize":20,"color":"#555555"},"encoding":{"text":{"field":"region"},"x":{"field":"first","type":"nominal","bandPosition":1,"axis":null,"scale":{"domain":["New England","Middle Atlantic","East South Central","South Atlantic","West South Central","East North Central","West North Central","Mountain","Pacific","Total"],"range":[2,1365],"paddingInner":0,"paddingOuter":0}}}},
{"data":{"values":[{"region":"South","first":"South Atlantic"},{"region":"Total","first":"Total"}]},"mark":{"type":"text","y":74,"fontSize":20,"color":"#555555"},"encoding":{"text":{"field":"region"},"x":{"field":"first","type":"nominal","axis":null,"scale":{"domain":["New England","Middle Atlantic","East South Central","South Atlantic","West South Central","East North Central","West North Central","Mountain","Pacific","Total"],"range":[2,1365],"paddingInner":0,"paddingOuter":0}}}},
{"data":{"values":[{"first":"New England"},{"first":"East South Central"},{"first":"East North Central"},{"first":"Mountain"},{"first":"Total"}]},"mark":{"type":"rule","stroke":"#d0d0d0","strokeWidth":2},"encoding":{"x":{"field":"first","type":"nominal","bandPosition":0,"axis":null,"scale":{"domain":["New England","Middle Atlantic","East South Central","South Atlantic","West South Central","East North Central","West North Central","Mountain","Pacific","Total"],"range":[2,1365],"paddingInner":0,"paddingOuter":0}},"y":{"value":57},"y2":{"value":197}}},
{"data":{"values":[{"edge":"right"}]},"mark":{"type":"rule","stroke":"#d0d0d0","strokeWidth":2},"encoding":{"x":{"value":1365.5},"y":{"value":57},"y2":{"value":197}}},
{"data":{"values":[{"edge":"bottom"}]},"mark":{"type":"rule","stroke":"#dcdcdc","strokeWidth":2.5},"encoding":{"x":{"value":2},"x2":{"value":1367},"y":{"value":197}}},
{"data":{"values":[{"t":"Click on a state to view the state detail"}]},"mark":{"type":"text","align":"left","x":73,"y":244,"fontSize":19.8,"fontStyle":"italic","color":"#555555"},"encoding":{"text":{"field":"t"}}},
{"data":{"name":"lower48"},"projection":{"type":"mercator","scale":1019,"translate":[2431,1310],"precision":0},"mark":{"type":"geoshape","stroke":"#ffffff","strokeWidth":1},"encoding":{"color":{"field":"properties.level","type":"ordinal","legend":null,"scale":{"domain":[1,2,3,4,5],"range":["#c3d4e4","#7baad4","#4682ba","#225196","#1a2d4f"]}}}},
{"data":{"name":"labels48"},"projection":{"type":"mercator","scale":1019,"translate":[2431,1310],"precision":0},"mark":{"type":"text","fontSize":16,"fontWeight":"bold","color":"#ffffff"},"encoding":{"longitude":{"field":"lon","type":"quantitative"},"latitude":{"field":"lat","type":"quantitative"},"text":{"field":"a"}}},
{"data":{"values":[{"t":"Percent Adequacy"}]},"mark":{"type":"text","x":1091,"y":963,"fontSize":19.8,"fontWeight":"bold","color":"#555555"},"encoding":{"text":{"field":"t"}}},
{"data":{"values":[{"t":"Smaller"}]},"mark":{"type":"text","align":"right","x":941,"y":999,"fontSize":21.3,"color":"#555555"},"encoding":{"text":{"field":"t"}}},
{"data":{"values":[{"t":"Larger"}]},"mark":{"type":"text","align":"left","x":1242,"y":999,"fontSize":21.3,"color":"#555555"},"encoding":{"text":{"field":"t"}}},
{"data":{"values":[{"step":1},{"step":2},{"step":3},{"step":4},{"step":5}]},"mark":{"type":"rect","y":980,"y2":1007},"encoding":{"x":{"field":"step","type":"ordinal","axis":null,"scale":{"range":[950,1234],"paddingInner":0,"paddingOuter":0}},"fill":{"field":"step","type":"ordinal","legend":null,"scale":{"domain":[1,2,3,4,5],"range":["#c3d4e4","#7baad4","#4682ba","#225196","#1a2d4f"]}}}},
{"data":{"values":[{"t":"legend frame"}]},"mark":{"type":"rect","x":950,"x2":1234,"y":980,"y2":1007,"fill":null,"stroke":"#b8b4a8","strokeWidth":2.5},"encoding":{}},
{"data":{"values":[{"t":"Total Demand 2035"}]},"mark":{"type":"text","align":"left","x":1377,"y":28,"fontSize":28.9,"fontWeight":"bold","color":"#122d52"},"encoding":{"text":{"field":"t"}}},
{"data":{"values":[{"t":"Demand"}]},"mark":{"type":"text","x":1842,"y":23,"fontSize":21.3,"color":"#555555"},"encoding":{"text":{"field":"t"}}},
{"data":{"values":[{"t":"Click to sort"}]},"mark":{"type":"text","x":1784,"y":70,"fontSize":21.3,"color":"#555555"},"encoding":{"text":{"field":"t"}}},
{"data":{"name":"demand"},"transform":[{"filter":"datum.state!=='Arizona' && datum.state!=='Nebraska'"}],"mark":{"type":"text","align":"left","x":1380.6,"dy":0.7,"fontSize":21.3,"color":"#555555"},"encoding":{"text":{"field":"state"},"y":{"field":"state","type":"nominal","axis":null,"scale":{"domain":["Arizona","Arkansas","California","Colorado","Connecticut","Delaware","District of Columbia","Florida","Georgia","Hawaii","Idaho","Illinois","Indiana","Iowa","Kansas","Kentucky","Louisiana","Maine","Maryland","Massachusetts","Michigan","Minnesota","Mississippi","Missouri","Montana","Nebraska"],"range":[96,1032],"paddingInner":0,"paddingOuter":0}}}},
{"data":{"name":"demand"},"transform":[{"filter":"datum.state==='Arizona'"}],"mark":{"type":"text","align":"left","x":1380.6,"yOffset":7,"fontSize":21.3,"color":"#555555"},"encoding":{"text":{"field":"state"},"y":{"field":"state","type":"nominal","axis":null,"scale":{"domain":["Arizona","Arkansas","California","Colorado","Connecticut","Delaware","District of Columbia","Florida","Georgia","Hawaii","Idaho","Illinois","Indiana","Iowa","Kansas","Kentucky","Louisiana","Maine","Maryland","Massachusetts","Michigan","Minnesota","Mississippi","Missouri","Montana","Nebraska"],"range":[96,1032],"paddingInner":0,"paddingOuter":0}}}},
{"data":{"name":"demand"},"transform":[{"filter":"datum.state==='Nebraska'"}],"mark":{"type":"text","align":"left","x":1380.6,"yOffset":-5,"fontSize":21.3,"color":"#555555"},"encoding":{"text":{"field":"state"},"y":{"field":"state","type":"nominal","axis":null,"scale":{"domain":["Arizona","Arkansas","California","Colorado","Connecticut","Delaware","District of Columbia","Florida","Georgia","Hawaii","Idaho","Illinois","Indiana","Iowa","Kansas","Kentucky","Louisiana","Maine","Maryland","Massachusetts","Michigan","Minnesota","Mississippi","Missouri","Montana","Nebraska"],"range":[96,1032],"paddingInner":0,"paddingOuter":0}}}},
{"data":{"values":[{"t":"clip below the list"}]},"mark":{"type":"rect","x":1369,"x2":1565,"y":1000,"y2":1034,"fill":"#ffffff"},"encoding":{}},
{"data":{"values":[{"k":5000},{"k":10000},{"k":15000}]},"mark":{"type":"rule","stroke":"#e0e0e0","strokeWidth":1.5},"encoding":{"x":{"field":"k","type":"quantitative","axis":null,"scale":{"domain":[0,17840],"range":[1570.6,2016.6],"nice":false}},"y":{"value":106},"y2":{"value":998}}},
{"data":{"values":[{"k":0}]},"mark":{"type":"rule","stroke":"#c8c8c8","strokeWidth":1,"strokeDash":[3,3]},"encoding":{"x":{"field":"k","type":"quantitative","axis":null,"scale":{"domain":[0,17840],"range":[1570.6,2016.6],"nice":false}},"y":{"value":106},"y2":{"value":998}}},
{"data":{"name":"demand"},"transform":[{"filter":"datum.state!=='Arizona' && datum.state!=='Nebraska'"}],"mark":{"type":"bar","size":13.5,"color":"#4e79a7","stroke":"#ffffff","strokeWidth":1},"encoding":{"x":{"field":"demand","type":"quantitative","axis":{"orient":"bottom","values":[0,5000,10000,15000],"labelExpr":"(datum.value/1000)+'K'","labelFlush":true,"title":null,"domain":false,"ticks":false,"grid":false,"labelFont":"Liberation Sans","labelFontSize":21.3,"labelColor":"#555555","labelPadding":-21},"scale":{"domain":[0,17840],"range":[1570.6,2016.6],"nice":false}},"y":{"field":"state","type":"nominal","axis":null,"scale":{"domain":["Arizona","Arkansas","California","Colorado","Connecticut","Delaware","District of Columbia","Florida","Georgia","Hawaii","Idaho","Illinois","Indiana","Iowa","Kansas","Kentucky","Louisiana","Maine","Maryland","Massachusetts","Michigan","Minnesota","Mississippi","Missouri","Montana","Nebraska"],"range":[96,1032],"paddingInner":0,"paddingOuter":0}}}},
{"data":{"name":"demand"},"transform":[{"filter":"datum.state==='Arizona'"}],"mark":{"type":"bar","size":6.5,"yOffset":3.8,"color":"#4e79a7"},"encoding":{"x":{"field":"demand","type":"quantitative","axis":{"orient":"top","values":[0,5000,10000,15000],"labelExpr":"(datum.value/1000)+'K'","labelFlush":true,"title":null,"domain":false,"ticks":false,"grid":false,"labelFont":"Liberation Sans","labelFontSize":21.3,"labelColor":"#555555","labelPadding":-100},"scale":{"domain":[0,17840],"range":[1570.6,2016.6],"nice":false}},"y":{"field":"state","type":"nominal","axis":null,"scale":{"domain":["Arizona","Arkansas","California","Colorado","Connecticut","Delaware","District of Columbia","Florida","Georgia","Hawaii","Idaho","Illinois","Indiana","Iowa","Kansas","Kentucky","Louisiana","Maine","Maryland","Massachusetts","Michigan","Minnesota","Mississippi","Missouri","Montana","Nebraska"],"range":[96,1032],"paddingInner":0,"paddingOuter":0}}}},
{"data":{"values":[{"part":"top","from":0,"to":0.048},{"part":"thumb","from":0.048,"to":0.534},{"part":"bottom","from":0.534,"to":1}]},"mark":{"type":"rect","x":2017.5,"x2":2046,"stroke":"#b8b8b8","strokeWidth":2},"encoding":{"y":{"field":"from","type":"quantitative","axis":null,"scale":{"domain":[0,1],"range":[114.7,998]}},"y2":{"field":"to"},"fill":{"field":"part","type":"nominal","legend":null,"scale":{"domain":["top","thumb","bottom"],"range":["#ffffff","#eeeeee","#ffffff"]}}}}
]},
{"width":2048,"height":1,"projection":{"type":"mercator","scale":322.5,"translate":[1051,279],"precision":0,"coefficient":2},"layer":[
{"data":{"name":"alaska"},"mark":{"type":"geoshape","clip":false,"stroke":"#ffffff","strokeWidth":0.5},"encoding":{"color":{"field":"properties.level","type":"ordinal","legend":null,"scale":{"domain":[1,2,3,4,5],"range":["#c3d4e4","#7baad4","#4682ba","#225196","#1a2d4f"]}}}},
{"data":{"values":[{"a":"AK","lon":-150,"lat":64.3}]},"mark":{"type":"text","clip":false,"fontSize":19,"fontWeight":"bold","color":"#ffffff"},"encoding":{"longitude":{"field":"lon","type":"quantitative"},"latitude":{"field":"lat","type":"quantitative"},"text":{"field":"a"}}}
]},
{"width":2048,"height":1,"projection":{"type":"mercator","scale":3290,"translate":[9513,1076],"precision":0,"coefficient":3},"layer":[
{"data":{"name":"hawaii"},"mark":{"type":"geoshape","clip":false},"encoding":{"color":{"field":"properties.level","type":"ordinal","legend":null,"scale":{"domain":[1,2,3,4,5],"range":["#c3d4e4","#7baad4","#4682ba","#225196","#1a2d4f"]}}}},
{"data":{"values":[{"a":"HI","lon":-156.3,"lat":20.8}]},"mark":{"type":"text","clip":false,"fontSize":16,"fontWeight":"bold","color":"#ffffff"},"encoding":{"longitude":{"field":"lon","type":"quantitative"},"latitude":{"field":"lat","type":"quantitative"},"text":{"field":"a"}}}
]},
{"width":2048,"height":1,"projection":{"type":"mercator","scale":20000,"translate":[28070,14413],"precision":0,"coefficient":4},"layer":[
{"data":{"name":"dcInset"},"mark":{"type":"geoshape","clip":false},"encoding":{"color":{"field":"properties.level","type":"ordinal","legend":null,"scale":{"domain":[1,2,3,4,5],"range":["#c3d4e4","#7baad4","#4682ba","#225196","#1a2d4f"]}}}},
{"data":{"values":[{"a":"DC","lon":-77,"lat":38.92}]},"mark":{"type":"text","clip":false,"fontSize":23,"color":"#ffffff"},"encoding":{"longitude":{"field":"lon","type":"quantitative"},"latitude":{"field":"lat","type":"quantitative"},"text":{"field":"a"}}}
]},
{"width":2048,"height":1,"projection":{"type":"mercator","scale":4500,"translate":[6890,3252],"precision":0,"coefficient":5},"layer":[
{"data":{"name":"riInset"},"mark":{"type":"geoshape","clip":false},"encoding":{"color":{"field":"properties.level","type":"ordinal","legend":null,"scale":{"domain":[1,2,3,4,5],"range":["#c3d4e4","#7baad4","#4682ba","#225196","#1a2d4f"]}}}},
{"data":{"values":[{"a":"RI","lon":-71.35,"lat":41.68}]},"mark":{"type":"text","clip":false,"fontSize":23,"color":"#ffffff"},"encoding":{"longitude":{"field":"lon","type":"quantitative"},"latitude":{"field":"lat","type":"quantitative"},"text":{"field":"a"}}}
]},
{"width":2048,"height":140,"layer":[
{"data":{"values":[{"t":"Date created: October 31, 2024"}]},"mark":{"type":"text","align":"left","x":11,"y":53.6,"fontSize":21.5,"color":"#555555"},"encoding":{"text":{"field":"t"}}},
{"data":{"values":[{"t":"Click to navigate to alternate table view"}]},"mark":{"type":"text","align":"right","x":2011,"y":46.3,"fontSize":21.5,"color":"#555555"},"encoding":{"text":{"field":"t"}}},
{"data":{"values":[{"t":"Source: Department of Health and Human Services, Health Resources and Services Administration, Health Workforce Projections. Available at https://bhw.hrsa.gov/data-research/review-health-workforce-research"}]},"mark":{"type":"text","align":"left","x":11,"y":102.3,"fontSize":21.6,"color":"#555555"},"encoding":{"text":{"field":"t"}}}
]}
]}
